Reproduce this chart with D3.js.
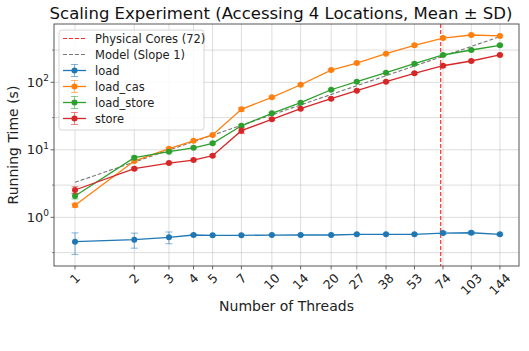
<!DOCTYPE html>
<html>
<head>
<meta charset="utf-8">
<script src="https://cdn.jsdelivr.net/npm/d3@7"></script>
<style>
  body { margin: 0; background: #fff; }
  svg { font-family: "DejaVu Sans", sans-serif; display: block; }
</style>
</head>
<body>
<svg id="chart" width="529" height="351"></svg>
<script>
// thread counts on the x axis
const threads = [1, 2, 3, 4, 5, 7, 10, 14, 20, 27, 38, 53, 74, 103, 144];

const loadMean = [0.435, 0.466, 0.506, 0.547, 0.541, 0.541, 0.545, 0.547, 0.547, 0.56, 0.56, 0.56, 0.585, 0.591, 0.56];
const loadSd = [0.153, 0.117, 0.1, 0.012, 0.006, 0.006, 0.006, 0.006, 0.006, 0.006, 0.006, 0.008, 0.03, 0.03, 0.02];

const loadCasMean = [1.51, 6.82, 10.4, 13.6, 16.6, 39.8, 60, 92, 152, 193, 266, 353, 453, 502, 486];
const loadCasSd = [0.1, 0.3, 0.4, 0.4, 0.5, 2.5, 2, 3, 5, 6, 8, 15, 25, 15, 15];

const loadStoreMean = [2.07, 7.64, 9.37, 10.7, 12.5, 22.7, 34.7, 49.9, 77.6, 102, 139, 189, 254, 301, 353];
const loadStoreSd = [0.2, 0.4, 0.3, 0.3, 0.4, 1, 1, 1.5, 2, 3, 4, 6, 10, 8, 10];

const storeMean = [2.54, 5.25, 6.37, 7.06, 8.18, 19.2, 28.3, 40.6, 57.1, 75.1, 102, 136, 176, 207, 254];
const storeSd = [0.3, 0.2, 0.2, 0.2, 0.3, 1.8, 1, 1.5, 2, 2, 3, 4, 8, 6, 8];

// slope-1 model line, one value per thread count
const modelVals = [3.3, 6.6, 9.9, 13.2, 16.5, 23.1, 33, 46.2, 66, 89.1, 125.4, 174.9, 244.2, 339.9, 475.2];
const physicalCores = 72;

const yMajor = [1, 10, 100];
const yMinor = [0.3, 3, 30, 300];

const series = [
    {name: "load", mean: loadMean, sd: loadSd, color: "#1f77b4"},
    {name: "load_cas", mean: loadCasMean, sd: loadCasSd, color: "#ff7f0e"},
    {name: "load_store", mean: loadStoreMean, sd: loadStoreSd, color: "#2ca02c"},
    {name: "store", mean: storeMean, sd: storeSd, color: "#d62728"}
];

const margin = {top: 24, right: 10, bottom: 85, left: 54},
    width = 529 - margin.left - margin.right,
    height = 351 - margin.top - margin.bottom;

const svg = d3.select("#chart");
const g = svg.append("g").attr("transform", `translate(${margin.left},${margin.top})`);

const x = d3.scaleLog().domain([0.782, 180]).range([0, width]);
const y = d3.scaleLog().domain([0.19, 731]).range([height, 0]);

// grid
const grid = g.append("g").attr("stroke", "#b0b0b0").attr("stroke-opacity", 0.55).attr("stroke-width", 0.8);
grid.selectAll(".gx").data(threads).join("line")
    .attr("x1", d => x(d)).attr("x2", d => x(d)).attr("y1", 0).attr("y2", height);
grid.selectAll(".gy").data(yMajor.concat(yMinor)).join("line")
    .attr("y1", d => y(d)).attr("y2", d => y(d)).attr("x1", 0).attr("x2", width);

// physical cores marker
g.append("line")
    .attr("x1", x(physicalCores)).attr("x2", x(physicalCores))
    .attr("y1", 0).attr("y2", height)
    .attr("stroke", "red").attr("stroke-opacity", 0.75)
    .attr("stroke-width", 1.3).attr("stroke-dasharray", "4,2");

// model
const line = d3.line().x((d, i) => x(threads[i])).y(d => y(d));
g.append("path").datum(modelVals)
    .attr("d", line).attr("fill", "none")
    .attr("stroke", "#555").attr("stroke-opacity", 0.8)
    .attr("stroke-width", 1.1).attr("stroke-dasharray", "4,2");

// series with error bars
series.forEach(s => {
    const sg = g.append("g");
    const eb = sg.append("g").attr("stroke", s.color).attr("stroke-opacity", 0.55).attr("stroke-width", 1);
    s.mean.forEach((m, i) => {
        const cx = x(threads[i]);
        const lo = y(Math.max(m - s.sd[i], 0.01)), hi = y(m + s.sd[i]);
        eb.append("line").attr("x1", cx).attr("x2", cx).attr("y1", lo).attr("y2", hi);
        eb.append("line").attr("x1", cx - 3.5).attr("x2", cx + 3.5).attr("y1", lo).attr("y2", lo);
        eb.append("line").attr("x1", cx - 3.5).attr("x2", cx + 3.5).attr("y1", hi).attr("y2", hi);
    });
    sg.append("path").datum(s.mean)
        .attr("d", line).attr("fill", "none")
        .attr("stroke", s.color).attr("stroke-width", 1.3);
    sg.selectAll("circle").data(s.mean).join("circle")
        .attr("cx", (d, i) => x(threads[i])).attr("cy", d => y(d))
        .attr("r", 3).attr("fill", s.color);
});

// frame
g.append("rect").attr("width", width).attr("height", height)
    .attr("fill", "none").attr("stroke", "#444").attr("stroke-width", 0.9);

// x axis ticks + rotated labels
const xt = g.append("g").attr("transform", `translate(0,${height})`);
xt.selectAll("line").data(threads).join("line")
    .attr("x1", d => x(d)).attr("x2", d => x(d)).attr("y1", 0).attr("y2", 3.5)
    .attr("stroke", "#444").attr("stroke-width", 0.8);
xt.selectAll("text").data(threads).join("text")
    .attr("font-size", 12.5).attr("fill", "#222")
    .attr("text-anchor", "middle").attr("dy", "0.35em")
    .text(d => d)
    .each(function(d) {
        const L = this.getComputedTextLength();
        const off = 6 + (L + 11) * 0.707 / 2;
        d3.select(this).attr("transform", `translate(${x(d)},${off}) rotate(-45)`);
    });

// y axis
const yt = g.append("g");
yt.selectAll(".maj").data(yMajor).join("line")
    .attr("x1", -3.5).attr("x2", 0).attr("y1", d => y(d)).attr("y2", d => y(d))
    .attr("stroke", "#444").attr("stroke-width", 0.8);
yt.selectAll(".min").data(yMinor).join("line")
    .attr("x1", -2).attr("x2", 0).attr("y1", d => y(d)).attr("y2", d => y(d))
    .attr("stroke", "#444").attr("stroke-width", 0.6);
const ylab = yt.selectAll("text").data(yMajor).join("text")
    .attr("x", -5).attr("y", d => y(d)).attr("dy", "0.35em")
    .attr("text-anchor", "end").attr("font-size", 13).attr("fill", "#222");
ylab.append("tspan").text("10");
ylab.append("tspan").attr("font-size", 9).attr("dy", "-0.6em").text(d => Math.round(Math.log10(d)));

// labels
svg.append("text").attr("x", margin.left + width / 2).attr("y", 311)
    .attr("text-anchor", "middle").attr("font-size", 14).attr("fill", "#222")
    .text("Number of Threads");
svg.append("text").attr("transform", `translate(18,${margin.top + height / 2}) rotate(-90)`)
    .attr("text-anchor", "middle").attr("font-size", 14).attr("fill", "#222")
    .text("Running Time (s)");
svg.append("text").attr("x", 281).attr("y", 19)
    .attr("text-anchor", "middle").attr("font-size", 16.5).attr("fill", "#111")
    .text("Scaling Experiment (Accessing 4 Locations, Mean \u00b1 SD)");

// legend
const legendItems = [
    {name: "Physical Cores (72)", type: "vline", color: "red"},
    {name: "Model (Slope 1)", type: "model", color: "#555"}
].concat(series.map(s => ({name: s.name, type: "err", color: s.color})));

const lg = svg.append("g").attr("transform", "translate(59,30)");
lg.append("rect").attr("width", 145).attr("height", 100).attr("rx", 3)
    .attr("fill", "white").attr("fill-opacity", 0.85)
    .attr("stroke", "#ccc").attr("stroke-width", 0.8);
legendItems.forEach((it, i) => {
    const cy = 8.5 + i * 16;
    const row = lg.append("g").attr("transform", `translate(0,${cy})`);
    if (it.type === "err") {
        row.append("line").attr("x1", 4).attr("x2", 27).attr("y1", 0).attr("y2", 0)
            .attr("stroke", it.color).attr("stroke-width", 1.3);
        row.append("line").attr("x1", 15.5).attr("x2", 15.5).attr("y1", -6).attr("y2", 6)
            .attr("stroke", it.color).attr("stroke-opacity", 0.55);
        row.append("line").attr("x1", 12).attr("x2", 19).attr("y1", -6).attr("y2", -6)
            .attr("stroke", it.color).attr("stroke-opacity", 0.55);
        row.append("line").attr("x1", 12).attr("x2", 19).attr("y1", 6).attr("y2", 6)
            .attr("stroke", it.color).attr("stroke-opacity", 0.55);
        row.append("circle").attr("cx", 15.5).attr("cy", 0).attr("r", 3).attr("fill", it.color);
    } else {
        row.append("line").attr("x1", 4).attr("x2", 27).attr("y1", 0).attr("y2", 0)
            .attr("stroke", it.color).attr("stroke-opacity", it.type === "vline" ? 0.85 : 0.8)
            .attr("stroke-width", 1.2).attr("stroke-dasharray", "4,2");
    }
    row.append("text").attr("x", 36).attr("dy", "0.35em")
        .attr("font-size", 11.5).attr("fill", "#222").text(it.name);
});
</script>
</body>
</html>
